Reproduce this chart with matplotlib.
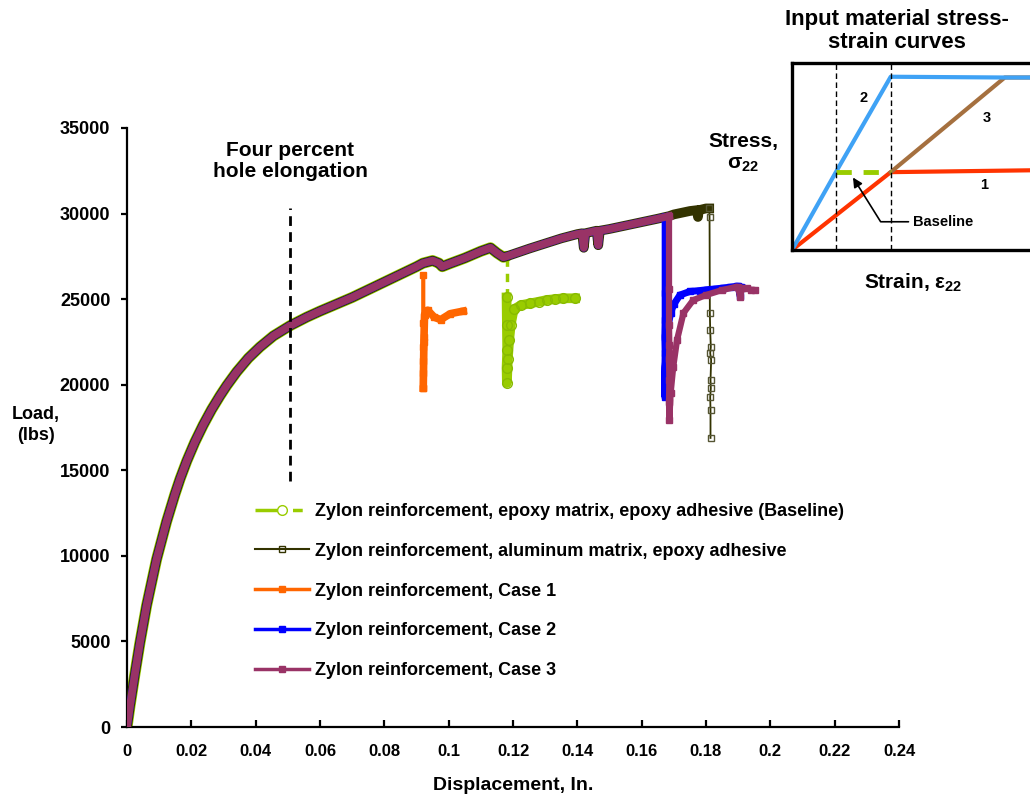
import numpy as np
import matplotlib
matplotlib.use('Agg')
import matplotlib.pyplot as plt
from matplotlib.lines import Line2D

plt.rcParams['font.family'] = ['Liberation Sans', 'DejaVu Sans']
plt.rcParams['font.weight'] = 'bold'
plt.rcParams['mathtext.fontset'] = 'custom'
plt.rcParams['mathtext.rm'] = 'Liberation Sans:bold'
plt.rcParams['mathtext.it'] = 'Liberation Sans:bold'
plt.rcParams['mathtext.bf'] = 'Liberation Sans:bold'
plt.rcParams['lines.scale_dashes'] = False

# loading path shared by all specimens up to first failure (in, lbs)
path_disp = [0.0, 0.0009, 0.0025, 0.004, 0.0061, 0.0092, 0.0123, 0.0149, 0.0165, 0.0186,
             0.0211, 0.0237, 0.0263, 0.0289, 0.031, 0.0341, 0.0377, 0.0413, 0.0455, 0.0507,
             0.0559, 0.06, 0.07, 0.08, 0.09, 0.092, 0.095,
             0.097, 0.098, 0.1, 0.105, 0.11, 0.113, 0.115, 0.117, 0.118, 0.125,
             0.13, 0.135, 0.14, 0.1415, 0.142, 0.1425, 0.146, 0.1465, 0.147, 0.15,
             0.155, 0.16, 0.165, 0.1673, 0.1685, 0.17, 0.175, 0.1772, 0.1775, 0.1778,
             0.18, 0.181]
path_load = [0, 1200, 3150, 4900, 7100, 9800, 12000, 13600, 14500, 15550,
             16650, 17650, 18550, 19350, 19950, 20750, 21550, 22200, 22850, 23450,
             23950, 24300, 25100, 26000, 26900, 27100, 27250,
             27100, 26900, 27050, 27400, 27800, 28000, 27700, 27450, 27500, 27950,
             28250, 28550, 28800, 28850, 28000, 28850, 29000, 28150, 29000, 29100,
             29300, 29500, 29700, 29800, 29850, 29950, 30150, 30200, 29800, 30200,
             30300, 30300]

# failure displacement of each specimen
fail_base = 0.118
fail_case1 = 0.092
fail_case2 = 0.1673
fail_case3 = 0.1685

# post-failure response
base_disp = [0.118, 0.118, 0.1181, 0.1182, 0.118, 0.1181, 0.1184, 0.1188, 0.1193, 0.1202,
             0.1225, 0.1253, 0.128, 0.1305, 0.133, 0.1356, 0.1393]
base_load = [27400, 25100, 23500, 22000, 21000, 20100, 21500, 22600, 23500, 24400,
             24650, 24750, 24850, 24950, 25000, 25050, 25050]

alum_disp = [0.1811, 0.1812, 0.1813, 0.1815, 0.1813, 0.1816, 0.1814, 0.1815, 0.1813, 0.1814, 0.1814]
alum_load = [29800, 24200, 23190, 22200, 21850, 21440, 20270, 19800, 19280, 18520, 16890]

case1_disp = [0.0921, 0.0921, 0.0922, 0.0921, 0.092, 0.0921, 0.0921, 0.0923, 0.0925, 0.0935,
              0.0955, 0.0975, 0.1005, 0.1045]
case1_load = [26400, 23600, 22800, 22200, 21400, 20700, 19800, 22500, 24100, 24350,
              23950, 23800, 24150, 24300]

case2_disp = [0.1673, 0.1673, 0.1672, 0.1673, 0.1672, 0.1671, 0.1672, 0.1673, 0.168, 0.169,
              0.17, 0.1719, 0.175, 0.178, 0.1802, 0.183, 0.1853, 0.1875, 0.1895, 0.19,
              0.1906, 0.191]
case2_load = [25350, 23780, 22790, 21850, 20680, 19870, 19280, 21000, 23200, 24190,
              24700, 25240, 25450, 25500, 25550, 25600, 25650, 25700, 25750, 25750,
              25200, 25700]

case3_disp = [0.1685, 0.1685, 0.1686, 0.1685, 0.1686, 0.1685, 0.1686, 0.169, 0.1698, 0.171,
              0.173, 0.176, 0.18, 0.185, 0.1895, 0.19, 0.1906, 0.1912, 0.1927, 0.194, 0.1953]
case3_load = [25600, 23500, 22300, 21500, 20300, 19000, 17940, 19500, 21030, 22620,
              24190, 24940, 25240, 25530, 25720, 25700, 25100, 25650, 25640, 25550, 25530]

labels = ['Zylon reinforcement, epoxy matrix, epoxy adhesive (Baseline)',
          'Zylon reinforcement, aluminum matrix, epoxy adhesive',
          'Zylon reinforcement, Case 1',
          'Zylon reinforcement, Case 2',
          'Zylon reinforcement, Case 3']
colors = ['#99CC00', '#333300', '#FF6600', '#0000FF', '#993366']

x_ticks = [0, 0.02, 0.04, 0.06, 0.08, 0.1, 0.12, 0.14, 0.16, 0.18, 0.2, 0.22, 0.24]
x_ticklabels = ['0', '0.02', '0.04', '0.06', '0.08', '0.1', '0.12', '0.14', '0.16',
                '0.18', '0.2', '0.22', '0.24']
y_ticks = [0, 5000, 10000, 15000, 20000, 25000, 30000, 35000]

hole_elong_disp = 0.0507
hole_elong_range = [14400, 30300]

# input stress-strain curves (nominal units)
in_blue_x = [0, 1.0, 2.25, 4.85, 6.2]
in_blue_y = [0, 1.02, 2.27, 2.26, 2.26]
in_red_x = [0, 2.25, 6.2]
in_red_y = [0, 1.02, 1.05]
in_brown_x = [2.25, 4.85, 6.2]
in_brown_y = [1.02, 2.26, 2.26]
in_base_x = [1.0, 2.25]
in_base_y = [1.02, 1.02]
in_guides = [1.0, 2.25]


def prefix(fail):
    n = len([d for d in path_disp if d <= fail])
    return path_disp[:n], path_load[:n]


fig = plt.figure(figsize=(10.3, 7.98), dpi=100)
ax = fig.add_axes([127/1030, 71/798, 772/1030, 599/798])

# baseline
d, l = prefix(fail_base)
ax.plot(d, l, color=colors[0], lw=8, zorder=1, solid_capstyle='round')
ax.plot(base_disp[:2], base_load[:2], color=colors[0], lw=2.5, dashes=(6, 5), zorder=2)
ax.plot(base_disp[1:], base_load[1:], color=colors[0], lw=7, zorder=2)
ax.plot(base_disp[1:], base_load[1:], ls='none', marker='o', ms=7,
        mfc='none', mec='#88BB00', mew=1, zorder=2)

# aluminum matrix
ax.plot(path_disp, path_load, color=colors[1], lw=7, zorder=3)
ax.plot([path_disp[-1]] + alum_disp, [path_load[-1]] + alum_load, color=colors[1], lw=1.3,
        marker='s', ms=5, mfc='none', mec='#555533', mew=1, zorder=3)

# case 1
d, l = prefix(fail_case1)
ax.plot(d, l, color=colors[2], lw=5, zorder=2)
ax.plot(case1_disp[:7], case1_load[:7], color=colors[2], lw=3, marker='s', ms=5, zorder=2)
ax.plot(case1_disp[6:], case1_load[6:], color=colors[2], lw=5.5, marker='s', ms=5, zorder=2)

# case 2
d, l = prefix(fail_case2)
ax.plot(d, l, color=colors[3], lw=5.5, zorder=4)
ax.plot([d[-1]] + case2_disp, [l[-1]] + case2_load, color=colors[3], lw=5, marker='s',
        ms=5, zorder=4)

# case 3
d, l = prefix(fail_case3)
ax.plot(d, l, color=colors[4], lw=5.5, zorder=5)
ax.plot([d[-1]] + case3_disp, [l[-1]] + case3_load, color=colors[4], lw=4.5, marker='s',
        ms=5, zorder=5)

ax.plot([hole_elong_disp, hole_elong_disp], hole_elong_range, color='black', lw=2,
        dashes=(7, 4.5), zorder=6)
ax.text(hole_elong_disp, 31900, 'Four percent\nhole elongation', ha='center', va='bottom',
        fontsize=15, fontweight='bold', linespacing=1.15)

ax.set_xlim(0, 0.24)
ax.set_ylim(0, 35000)
ax.spines['top'].set_visible(False)
ax.spines['right'].set_visible(False)
ax.spines['left'].set_linewidth(1.6)
ax.spines['bottom'].set_linewidth(1.6)
ax.set_xticks(x_ticks)
ax.set_xticklabels(x_ticklabels, fontsize=12, fontweight='bold')
ax.set_yticks(y_ticks)
ax.set_yticklabels([str(v) for v in y_ticks], fontsize=13, fontweight='bold')
ax.tick_params(axis='x', direction='in', length=5, width=1.6, pad=12)
ax.tick_params(axis='y', direction='out', length=4, width=1.6, pad=8)
ax.set_xlabel('Displacement, In.', fontsize=14, fontweight='bold', labelpad=13)
fig.text(36/1030, 1 - 425/798, 'Load,\n(lbs)', ha='center', va='center', fontsize=13,
         fontweight='bold', linespacing=1.3)

handles = [
    Line2D([], [], color=colors[0], lw=2.5, dashes=(22, 5, 7, 20), marker='o', ms=7,
           mfc='white', mec=colors[0]),
    Line2D([], [], color=colors[1], lw=1.5, marker='s', ms=5, mfc='none', mec=colors[1]),
    Line2D([], [], color=colors[2], lw=2.5, marker='s', ms=4.5),
    Line2D([], [], color=colors[3], lw=2.5, marker='s', ms=4.5),
    Line2D([], [], color=colors[4], lw=2.5, marker='s', ms=4.5),
]
fig.legend(handles, labels, loc='upper left', bbox_to_anchor=(255/1030, 1 - 503/798),
           frameon=False, handlelength=3.0, handletextpad=0.3,
           labelspacing=1.26, borderpad=0, borderaxespad=0,
           prop={'weight': 'bold', 'size': 13})

# inset of the input material curves
ins = fig.add_axes([792/1030, 1 - 250/798, 272/1030, 187/798])
ins.plot(in_red_x, in_red_y, color='#FF3300', lw=3)
ins.plot(in_brown_x, in_brown_y, color='#A5703F', lw=3)
ins.plot(in_blue_x, in_blue_y, color='#3FA2F5', lw=3)
ins.plot(in_base_x, in_base_y, color='#99CC00', lw=3.5, dashes=(11, 8.5))
for g in in_guides:
    ins.axvline(g, color='black', lw=1, dashes=(4, 2.5))
ins.set_xlim(0, 6.2)
ins.set_ylim(0, 2.45)
ins.set_xticks([])
ins.set_yticks([])
for s in ins.spines.values():
    s.set_linewidth(2.4)
ins.text(1.64, 1.99, '2', ha='center', va='center', fontsize=10.5, fontweight='bold')
ins.text(4.45, 1.73, '3', ha='center', va='center', fontsize=10.5, fontweight='bold')
ins.text(4.39, 0.85, '1', ha='center', va='center', fontsize=10.5, fontweight='bold')
ins.annotate('Baseline', xy=(1.39, 0.95), xytext=(2.75, 0.37), ha='left', va='center',
             fontsize=10.5, fontweight='bold',
             arrowprops=dict(arrowstyle='-|>', color='black', lw=1.2, shrinkA=1, shrinkB=0,
                             mutation_scale=14,
                             connectionstyle='angle,angleA=0,angleB=-58,rad=0'))

fig.text(897/1030, 1 - 31/798, 'Input material stress-\nstrain curves', ha='center',
         va='center', fontsize=16, fontweight='bold', linespacing=1.15)
fig.text(743/1030, 1 - 153/798, 'Stress,\n$\\sigma_{22}$', ha='center', va='center',
         fontsize=15, fontweight='bold', linespacing=1.2)
fig.text(913/1030, 1 - 283/798, 'Strain, $\\varepsilon_{22}$', ha='center', va='center',
         fontsize=15, fontweight='bold')

fig.savefig('out.png', dpi=100)
